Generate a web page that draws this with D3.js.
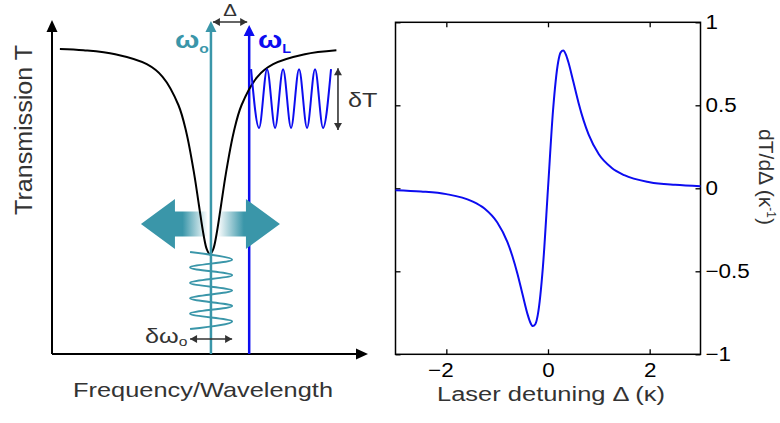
<!DOCTYPE html>
<html>
  <head>
    <meta charset="utf-8">
    <title>Transmission slope</title>
    <style>
      body { margin: 0; background: #fff; }
      text { font-family: "Liberation Sans", Arial, sans-serif; }
      .axis text { font-size: 20px; fill: #000; }
      .axis line { stroke: #000; stroke-width: 1.3; }
      .axis path { display: none; }
    </style>
  </head>
  <body>
    <div id="chart"></div>
    <script src="https://d3js.org/d3.v7.min.js"></script>
    <script>
      // left panel: schematic Lorentzian dip (frequency 0..10, T 0..1)
      var lorentzFreq = [0.25, 1, 2, 3, 3.5, 4, 4.25, 4.5, 4.65, 4.8, 4.9, 5, 5.1, 5.2, 5.35, 5.5, 5.75, 6, 6.5, 7, 8, 9];
      var lorentzT = [0.919, 0.915, 0.903, 0.873, 0.835, 0.75, 0.668, 0.542, 0.448, 0.357, 0.315, 0.30, 0.315, 0.357, 0.448, 0.542, 0.668, 0.75, 0.835, 0.873, 0.903, 0.915];
      var omega0 = 5.03;
      var omegaL = 6.24;
      // laser-side oscillation (extremes, normalised) and resonance jitter
      var blueWave = [1, -1, 1, -1, 1, -1, 1, -1, 1, -1, 1];
      var tealWave = [-1, 1, -1, 1, -1, 1, -1, 1, -1, 1, -1];

      // right panel: dT/dDelta vs laser detuning
      var detuning = [-3, -2.5, -2, -1.5, -1.25, -1, -0.8, -0.7, -0.6, -0.5, -0.4, -0.35, -0.3, -0.25, -0.2, -0.1, 0,
                      0.1, 0.2, 0.25, 0.3, 0.35, 0.4, 0.5, 0.6, 0.7, 0.8, 1, 1.25, 1.5, 2, 2.5, 3];
      var slope = [-0.011, -0.019, -0.035, -0.077, -0.122, -0.205, -0.323, -0.409, -0.516, -0.64, -0.761, -0.807, -0.830, -0.819, -0.761, -0.473, 0,
                   0.473, 0.761, 0.819, 0.830, 0.807, 0.761, 0.64, 0.516, 0.409, 0.323, 0.205, 0.124, 0.079, 0.037, 0.021, 0.013];
      var xTicks = [-2, 0, 2];
      var yTicks = [-1, -0.5, 0, 0.5, 1];

      var width = 780, height = 423;
      var teal = '#3a96a9', blue = '#0c0cf0', dark = '#333';

      var svg = d3.select('#chart').append('svg')
        .attr('width', width)
        .attr('height', height);

      function head(x, y, dir, len, hw) {
        var p;
        if (dir === 'up') p = [[x, y], [x - hw, y + len], [x + hw, y + len]];
        if (dir === 'down') p = [[x, y], [x - hw, y - len], [x + hw, y - len]];
        if (dir === 'left') p = [[x, y], [x + len, y - hw], [x + len, y + hw]];
        if (dir === 'right') p = [[x, y], [x - len, y - hw], [x - len, y + hw]];
        return 'M' + p.join('L') + 'Z';
      }
      // the figure's lettering is a bit wider than Arial
      function widen(sel, k) {
        sel.each(function() {
          var w = this.getComputedTextLength();
          d3.select(this).attr('textLength', w * k).attr('lengthAdjust', 'spacingAndGlyphs');
        });
      }

      // ---------- left panel ----------
      var fx = d3.scaleLinear().domain([0, 10]).range([52, 368]);
      var fy = d3.scaleLinear().domain([0, 1]).range([354, 22]);

      var defs = svg.append('defs');
      var grad = defs.append('linearGradient')
        .attr('id', 'fade')
        .attr('gradientUnits', 'userSpaceOnUse')
        .attr('x1', fx(omega0) - 70).attr('x2', fx(omega0) + 69)
        .attr('y1', 0).attr('y2', 0);
      [[0, teal], [0.30, teal], [0.48, '#ffffff'], [0.55, '#ffffff'], [0.74, teal], [1, teal]].forEach(function(s) {
        grad.append('stop').attr('offset', s[0]).attr('stop-color', s[1]);
      });

      var left = svg.append('g');

      // axes with arrowheads
      left.append('line').attr('x1', fx(0)).attr('y1', fy(0)).attr('x2', fx(0)).attr('y2', fy(1) + 8)
        .attr('stroke', '#000').attr('stroke-width', 2);
      left.append('path').attr('d', head(fx(0), fy(1) - 2, 'up', 12, 5.5)).attr('fill', '#000');
      left.append('line').attr('x1', fx(0)).attr('y1', fy(0)).attr('x2', fx(10) - 8).attr('y2', fy(0))
        .attr('stroke', '#000').attr('stroke-width', 2);
      left.append('path').attr('d', head(fx(10), fy(0), 'right', 12, 5.5)).attr('fill', '#000');

      // laser line
      var xL = fx(omegaL), x0 = fx(omega0);
      left.append('line').attr('x1', xL).attr('y1', fy(0)).attr('x2', xL).attr('y2', fy(1) + 10)
        .attr('stroke', blue).attr('stroke-width', 2.5);
      left.append('path').attr('d', head(xL, fy(1) + 3, 'up', 11, 5.5)).attr('fill', blue);

      // big double arrow showing resonance shift
      var ay = 224;
      left.append('path')
        .attr('d', 'M' + [[x0 - 70, ay], [x0 - 36, ay - 25], [x0 - 36, ay - 12.5], [x0 + 35, ay - 12.5], [x0 + 35, ay - 25],
          [x0 + 69, ay], [x0 + 35, ay + 25], [x0 + 35, ay + 12.5], [x0 - 36, ay + 12.5], [x0 - 36, ay + 25]].join('L') + 'Z')
        .attr('fill', 'url(#fade)');

      // Lorentzian
      var lorentz = d3.line()
        .x(function(d, i) { return fx(lorentzFreq[i]); })
        .y(function(d) { return fy(d); })
        .curve(d3.curveCatmullRom);
      left.append('path').attr('d', lorentz(lorentzT))
        .attr('fill', 'none').attr('stroke', '#000').attr('stroke-width', 2);

      // resonance line
      left.append('line').attr('x1', x0).attr('y1', fy(0)).attr('x2', x0).attr('y2', fy(1) + 7)
        .attr('stroke', teal).attr('stroke-width', 2.5);
      left.append('path').attr('d', head(x0, fy(1) - 1, 'up', 11, 5.5)).attr('fill', teal);

      // transmission oscillation on the laser side
      var bx = d3.scaleLinear().domain([0, blueWave.length - 1]).range([fx(6.30), fx(8.83)]);
      var by = d3.scaleLinear().domain([-1, 1]).range([fy(0.681), fy(0.858)]);
      left.append('path')
        .attr('d', d3.line().x(function(d, i) { return bx(i); }).y(function(d) { return by(d); })
          .curve(d3.curveMonotoneX)(blueWave))
        .attr('fill', 'none').attr('stroke', blue).attr('stroke-width', 2);

      // resonance jitter
      var ty = d3.scaleLinear().domain([0, tealWave.length - 1]).range([fy(0.307), fy(0.075)]);
      var tx = d3.scaleLinear().domain([-1, 1]).range([fx(4.37), fx(5.70)]);
      left.append('path')
        .attr('d', d3.line().x(function(d) { return tx(d); }).y(function(d, i) { return ty(i); })
          .curve(d3.curveMonotoneY)(tealWave))
        .attr('fill', 'none').attr('stroke', teal).attr('stroke-width', 2);

      // small dimension arrows
      function dimArrow(xa, ya, xb, yb) {
        var vertical = xa === xb;
        left.append('line').attr('x1', xa).attr('y1', ya).attr('x2', xb).attr('y2', yb)
          .attr('stroke', dark).attr('stroke-width', 1.6);
        left.append('path').attr('d', head(xa, ya, vertical ? 'up' : 'left', 7, 4)).attr('fill', dark);
        left.append('path').attr('d', head(xb, yb, vertical ? 'down' : 'right', 7, 4)).attr('fill', dark);
      }
      dimArrow(x0 + 2, 22, xL - 2, 22);
      dimArrow(fx(9.05), by(1) - 1, fx(9.05), by(-1) + 2);
      dimArrow(tx(-1), 339, tx(1), 339);

      // labels
      var flat = [];
      flat.push(left.append('text').attr('x', (x0 + xL) / 2).attr('y', 16).attr('text-anchor', 'middle')
        .attr('font-size', 17).attr('fill', dark).text('Δ'));
      var w0 = left.append('text').attr('x', 175).attr('y', 48).attr('fill', teal).attr('font-weight', 'bold');
      w0.append('tspan').attr('font-size', 24).text('ω');
      w0.append('tspan').attr('font-size', 13).attr('dy', 5).text('o');
      var wL = left.append('text').attr('x', 258).attr('y', 48).attr('fill', blue).attr('font-weight', 'bold');
      wL.append('tspan').attr('font-size', 24).text('ω');
      wL.append('tspan').attr('font-size', 12).attr('dy', 5).text('L');
      flat.push(w0, wL);
      flat.push(left.append('text').attr('x', 348).attr('y', 107).attr('font-size', 21).attr('fill', dark).text('δT'));
      var dw = left.append('text').attr('x', 145).attr('y', 343).attr('fill', dark);
      dw.append('tspan').attr('font-size', 21).text('δω');
      dw.append('tspan').attr('font-size', 13).attr('dy', 3).text('o');
      flat.push(dw);

      left.append('text')
        .attr('transform', 'translate(32,130) rotate(-90)')
        .attr('text-anchor', 'middle').attr('font-size', 23).attr('fill', dark)
        .attr('textLength', 170).attr('lengthAdjust', 'spacingAndGlyphs')
        .text('Transmission T');
      left.append('text').attr('x', 203).attr('y', 397).attr('text-anchor', 'middle')
        .attr('font-size', 21).attr('fill', dark)
        .attr('textLength', 260).attr('lengthAdjust', 'spacingAndGlyphs')
        .text('Frequency/Wavelength');

      // ---------- right panel ----------
      var x = d3.scaleLinear().domain([-3, 3]).range([395.5, 700.5]);
      var y = d3.scaleLinear().domain([-1, 1]).range([354.3, 22.3]);
      var right = svg.append('g');

      var xAxisG = right.append('g').attr('class', 'axis')
        .attr('transform', 'translate(0,' + y(-1) + ')')
        .call(d3.axisBottom(x).tickValues(xTicks).tickSize(-5).tickSizeOuter(0).tickPadding(9)
          .tickFormat(d3.format('d')));
      right.append('g').attr('class', 'axis')
        .attr('transform', 'translate(0,' + y(1) + ')')
        .call(d3.axisTop(x).tickValues(xTicks).tickSize(-5).tickSizeOuter(0).tickFormat(''));
      right.append('g').attr('class', 'axis')
        .attr('transform', 'translate(' + x(-3) + ',0)')
        .call(d3.axisLeft(y).tickValues(yTicks).tickSize(-5).tickSizeOuter(0).tickFormat(''));
      var yAxisG = right.append('g').attr('class', 'axis')
        .attr('transform', 'translate(' + x(3) + ',0)')
        .call(d3.axisRight(y).tickValues(yTicks).tickSize(-5).tickSizeOuter(0).tickPadding(5)
          .tickFormat(d3.format('')));
      xAxisG.selectAll('text').filter(function(d) { return d < 0; }).attr('dx', '-0.3em');
      widen(xAxisG.selectAll('text'), 1.12);
      widen(yAxisG.selectAll('text'), 1.12);

      right.append('rect')
        .attr('x', x(-3)).attr('y', y(1))
        .attr('width', x(3) - x(-3)).attr('height', y(-1) - y(1))
        .attr('fill', 'none').attr('stroke', '#000').attr('stroke-width', 1.5);

      right.append('path')
        .attr('d', d3.line()
          .x(function(d, i) { return x(detuning[i]); })
          .y(function(d) { return y(d); })
          .curve(d3.curveMonotoneX)(slope))
        .attr('fill', 'none').attr('stroke', blue).attr('stroke-width', 2);

      right.append('text').attr('x', 551).attr('y', 401).attr('text-anchor', 'middle')
        .attr('font-size', 20).attr('fill', dark)
        .attr('textLength', 228).attr('lengthAdjust', 'spacingAndGlyphs')
        .text('Laser detuning Δ (κ)');
      var yl = right.append('text')
        .attr('transform', 'translate(759,177) rotate(90)')
        .attr('text-anchor', 'middle').attr('font-size', 21).attr('fill', dark);
      yl.append('tspan').text('dT/dΔ (κ');
      yl.append('tspan').attr('font-size', 12).attr('dy', -8).text('-1');
      yl.append('tspan').attr('dy', 8).text(')');

      flat.forEach(function(t) { widen(t, 1.2); });
    </script>
  </body>
</html>
